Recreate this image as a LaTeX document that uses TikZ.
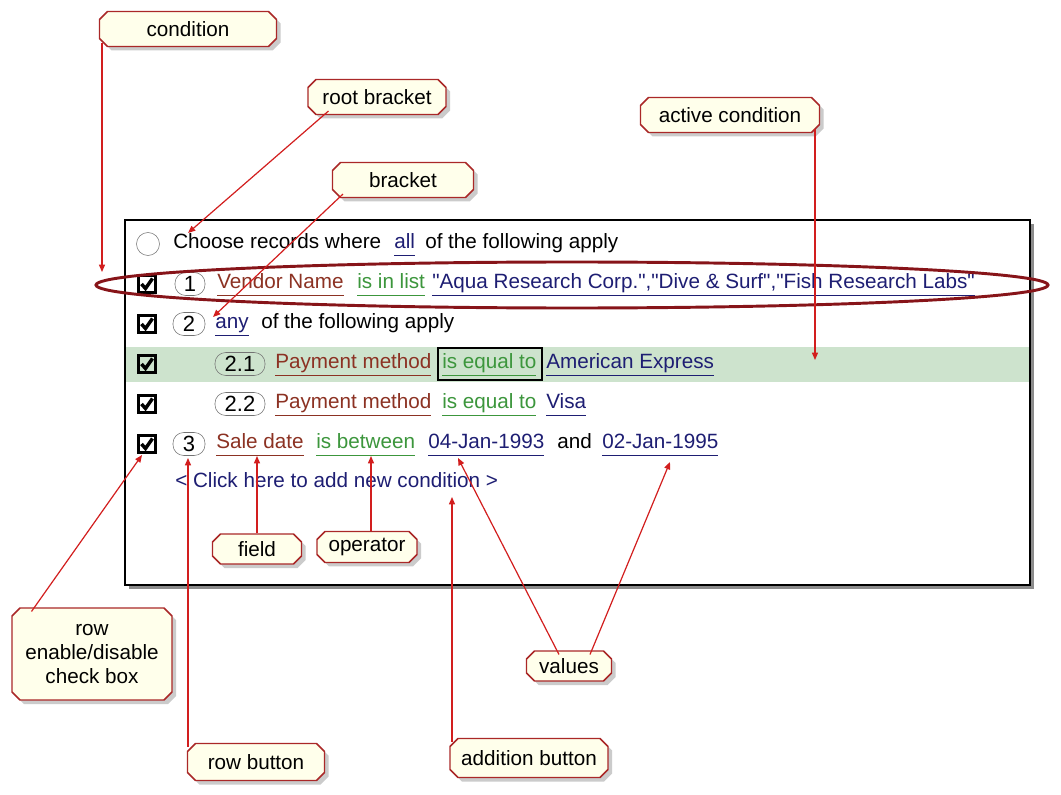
\documentclass[tikz,border=0pt]{standalone}
\usepackage{fontspec}
\setmainfont{Liberation Sans}
\usetikzlibrary{arrows.meta,shapes.misc,shadows,calc}

\definecolor{fieldc}{RGB}{140,50,35}
\definecolor{operc}{RGB}{60,150,60}
\definecolor{valc}{RGB}{30,30,115}
\definecolor{arrowred}{RGB}{210,30,30}
\definecolor{boxred}{RGB}{170,40,40}
\definecolor{boxfill}{RGB}{255,255,235}
\definecolor{ringred}{RGB}{135,20,25}
\definecolor{activeg}{RGB}{205,227,205}

\newcommand{\pix}{0.75pt}
\newcommand{\ulin}[1]{\underline{#1\vphantom{y}}}
\newcommand{\dq}{\textquotedbl}

\tikzset{
  callout/.style={chamfered rectangle, chamfered rectangle xsep=3pt,
    chamfered rectangle ysep=3pt, draw=boxred, line width=1.1pt, fill=boxfill,
    drop shadow={shadow xshift=3pt,shadow yshift=-3pt,fill=black!40},
    align=center, inner sep=2pt},
  callarrow/.style={draw=arrowred, line width=0.9pt, -{Triangle[length=5.5pt,width=4.5pt]}},
  rowtext/.style={anchor=west, inner sep=0pt, text height=11pt, text depth=4pt},
  fld/.style={rowtext, text=fieldc},
  oper/.style={rowtext, text=operc},
  val/.style={rowtext, text=valc},
  chkbox/.style={draw, line width=2.3pt, minimum size=17*\pix, inner sep=0pt},
  chkmark/.style={line width=2.6pt},
  numbtn/.style={draw=black!55, rounded corners=8pt, minimum height=23*\pix, inner sep=1pt,
    font=\fontsize{16.5}{18}\selectfont}
}

\begin{document}
\begin{tikzpicture}[x=0.75pt,y=-0.75pt,font=\fontsize{15.5}{18}\selectfont]
\useasboundingbox[fill=white] (0,0) rectangle (1061,795);

% panel
\fill[black!45] (129,224) rectangle (1034,589);
\fill[white] (125,220) rectangle (1030,585);
\fill[activeg] (126,347) rectangle (1029,382);
\draw[line width=1.2pt] (125,220) rectangle (1030,585);

% row 0
\node[draw=black!55, circle, minimum size=23*\pix, inner sep=0pt] (root) at (148,244) {};
\node[rowtext] (choose) at (173,244) {Choose records where};
\node[rowtext, text=valc] (all) at (394,244) {\ulin{all}};
\node[rowtext] (foll0) at (425,244) {of the following apply};

% check boxes
\foreach \r[count=\i] in {284,324,364,404,444} {
    \node[chkbox] (cb\i) at (147,\r) {};
    \draw[chkmark] ($(cb\i.center)+(-5.5,0)$) -- ++(4,4.5) -- ++(7,-10);
}

% row 1
\node[numbtn, minimum width=30*\pix] (n1) at (190,284) {1};
\node[fld] (vendor) at (217,284) {\ulin{Vendor Name}};
\node[oper] (inlist) at (357,284) {\ulin{is in list}};
\node[val] (list) at (432,284) {\ulin{\dq Aqua Research Corp.\dq,\dq Dive \& Surf\dq,\dq Fish Research Labs\dq}};

% row 2
\node[numbtn, minimum width=32*\pix] (n2) at (189,324) {2};
\node[val] (any) at (215,324) {\ulin{any}};
\node[rowtext] (foll2) at (261,324) {of the following apply};

% row 3
\node[numbtn, minimum width=50*\pix] (n21) at (240,364) {2.1};
\node[fld] (pay1) at (275,364) {\ulin{Payment method}};
\node[oper] (eq1) at (442,364) {\ulin{is equal to}};
\draw[line width=1.1pt] (438,348) rectangle (542,380);
\node[val] (amex) at (546,364) {\ulin{American Express}};

% row 4
\node[numbtn, minimum width=50*\pix] (n22) at (240,404) {2.2};
\node[fld] (pay2) at (275,404) {\ulin{Payment method}};
\node[oper] (eq2) at (442,404) {\ulin{is equal to}};
\node[val] (visa) at (546,404) {\ulin{Visa}};

% row 5
\node[numbtn, minimum width=32*\pix] (n3) at (189,444) {3};
\node[fld] (sale) at (216,444) {\ulin{Sale date}};
\node[oper] (betw) at (316,444) {\ulin{is between}};
\node[val] (d1) at (428,444) {\ulin{04-Jan-1993}};
\node[rowtext] (and) at (557,444) {and};
\node[val] (d2) at (602,444) {\ulin{02-Jan-1995}};

% row 6
\node[rowtext, text=valc] (addnew) at (175,483) {< Click here to add new condition >};

% ring round row 1
\draw[ringred, line width=2.2pt] (572,285) ellipse [x radius=476, y radius=23];

% callouts
\node[callout, minimum width=177*\pix, minimum height=35*\pix] (cond) at (188,29) {condition};
\node[callout, minimum width=138*\pix, minimum height=35*\pix] (rootbr) at (377,97) {root bracket};
\node[callout, minimum width=141*\pix, minimum height=35*\pix] (br) at (403,180) {bracket};
\node[callout, minimum width=179*\pix, minimum height=35*\pix] (active) at (730,115) {active condition};
\node[callout, minimum width=89*\pix, minimum height=30*\pix] (field) at (257,549) {field};
\node[callout, minimum width=100*\pix, minimum height=30*\pix] (operator) at (367,547) {operator};
\node[callout, minimum width=160*\pix, minimum height=92*\pix] (chk) at (92,654) {row\\enable/disable\\check box};
\node[callout, minimum width=85*\pix, minimum height=30*\pix] (values) at (569,666) {values};
\node[callout, minimum width=137*\pix, minimum height=37*\pix] (rowbtn) at (256,762) {row button};
\node[callout, minimum width=158*\pix, minimum height=39*\pix] (addbtn) at (529,758) {addition button};

% arrow tips
\coordinate (condtip) at (102,272);
\coordinate (roottip) at (188,233);
\coordinate (brtip) at (213,317);
\coordinate (acttip) at (815,360);
\coordinate (chktip) at (142,455);
\coordinate (rowtip) at (188,458);
\coordinate (fieldtip) at (257,456);
\coordinate (opertip) at (371,456);
\coordinate (addtip) at (452,497);
\coordinate (v1tip) at (458,458);
\coordinate (v2tip) at (670,462);

\draw[callarrow] (cond.south west -| condtip) -- (condtip);
\draw[callarrow] ($(rootbr.south west)+(17,0)$) -- (roottip);
\draw[callarrow] ($(br.south west)+(7,0)$) -- (brtip);
\draw[callarrow] (active.south east -| acttip) -- (acttip);
\draw[callarrow] ($(chk.north west)+(16,0)$) -- (chktip);
\draw[callarrow] (rowbtn.north west -| rowtip) -- (rowtip);
\draw[callarrow] (field.north) -- (fieldtip);
\draw[callarrow] (operator.north -| opertip) -- (opertip);
\draw[callarrow] (addbtn.north west -| addtip) -- (addtip);
\draw[callarrow] ($(values.north west)+(29,0)$) -- (v1tip);
\draw[callarrow] ($(values.north east)+(-18,0)$) -- (v2tip);
\end{tikzpicture}
\end{document}
